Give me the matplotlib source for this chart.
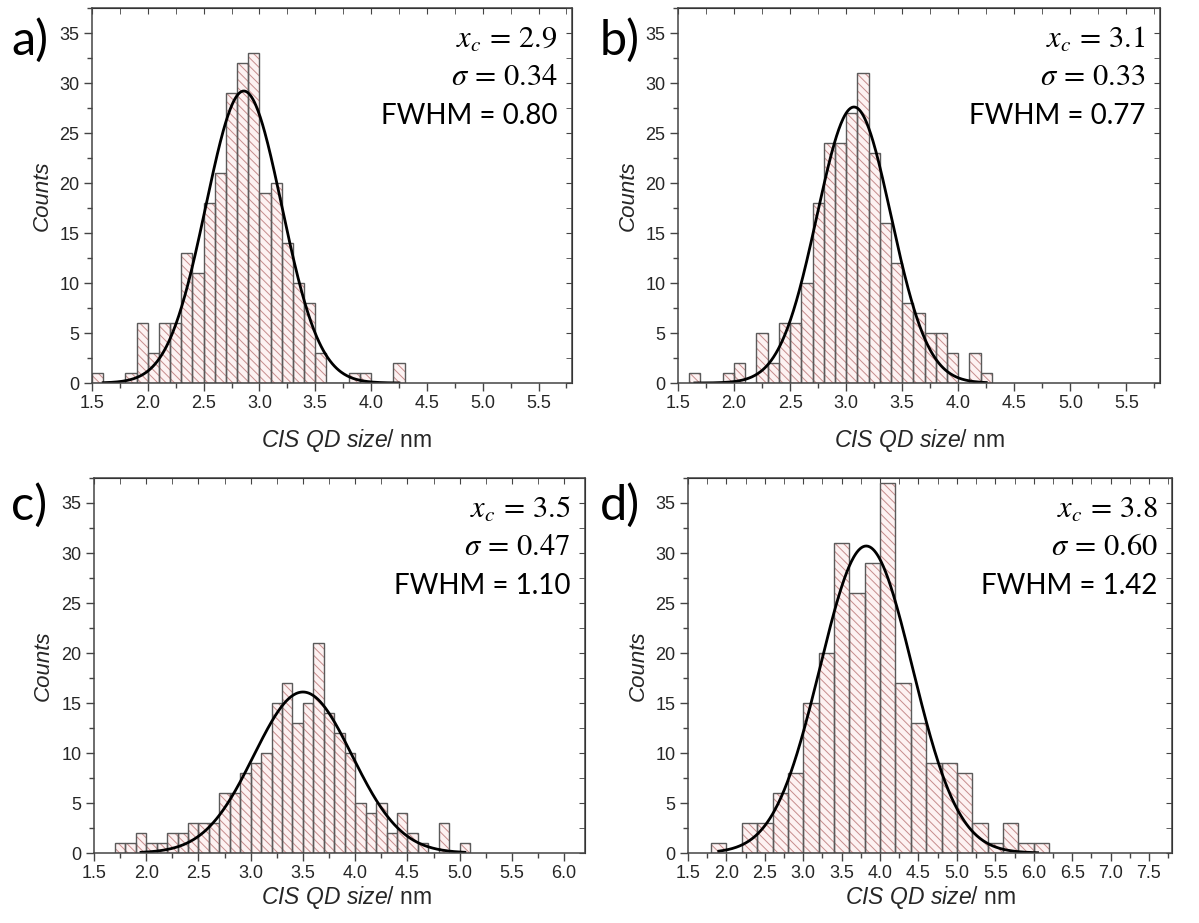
import numpy as np
import matplotlib
matplotlib.use('Agg')
import matplotlib.pyplot as plt
from matplotlib.ticker import MultipleLocator, FormatStrFormatter

plt.rcParams['font.family'] = ['Liberation Sans', 'DejaVu Sans']
plt.rcParams['mathtext.fontset'] = 'custom'
plt.rcParams['mathtext.rm'] = 'Liberation Sans'
plt.rcParams['mathtext.it'] = 'Liberation Sans:italic'
plt.rcParams['hatch.linewidth'] = 0.7

# histogram data: first bin edge, bin width, counts per bin
a_start, a_width = 1.5, 0.1
a_counts = [1, 0, 0, 1, 6, 3, 6, 6, 13, 11, 18, 21, 29, 32, 33, 19, 20, 14,
            10, 8, 3, 0, 0, 1, 1, 0, 0, 2]
b_start, b_width = 1.6, 0.1
b_counts = [1, 0, 0, 1, 2, 0, 5, 2, 6, 6, 10, 18, 24, 24, 27, 31, 23, 16,
            12, 8, 7, 5, 5, 3, 0, 3, 1]
c_start, c_width = 1.7, 0.1
c_counts = [1, 1, 2, 1, 1, 2, 2, 3, 3, 3, 6, 6, 8, 9, 10, 15, 17, 13, 15,
            21, 14, 12, 10, 5, 4, 5, 2, 4, 2, 1, 0, 3, 0, 1]
d_start, d_width = 1.8, 0.2
d_counts = [1, 0, 3, 3, 6, 8, 15, 20, 31, 26, 29, 37, 17, 13, 9, 9, 8, 3,
            1, 3, 1, 1]

# gaussian fits: amplitude, centre, sigma, and x-range of the drawn curve
a_fit = (29.2, 2.86, 0.34)
b_fit = (27.6, 3.07, 0.33)
c_fit = (16.1, 3.50, 0.47)
d_fit = (30.7, 3.82, 0.60)
a_range = (1.6, 4.25)
b_range = (1.65, 4.25)
c_range = (1.95, 5.05)
d_range = (1.9, 6.05)

# annotation values
a_stats = ('2.9', '0.34', '0.80')
b_stats = ('3.1', '0.33', '0.77')
c_stats = ('3.5', '0.47', '1.10')
d_stats = ('3.8', '0.60', '1.42')

W, H = 1199, 923
fig = plt.figure(figsize=(W / 100, H / 100), dpi=100)


def box(left, right, top, bottom):
    return [left / W, 1 - bottom / H, (right - left) / W, (bottom - top) / H]


def panel(rect, start, width, counts, fit, frange, stats, xmax, xtick_max,
          letter, letter_x, letter_y, xlab_pos):
    ax = fig.add_axes(rect)
    counts = np.array(counts)
    edges = start + width * np.arange(len(counts))
    # hatched fill, then outline on top
    ax.bar(edges, counts, width=width, align='edge', color='#fdf2f2',
           edgecolor='#c68c8c', hatch='\\\\\\\\', linewidth=0)
    ax.bar(edges, counts, width=width, align='edge', fill=False,
           edgecolor='#5a5a5a', linewidth=1.0)

    amp, xc, sig = fit
    xs = np.linspace(frange[0], frange[1], 400)
    ax.plot(xs, amp * np.exp(-(xs - xc) ** 2 / (2 * sig ** 2)), color='black', lw=2)

    ax.set_xlim(1.5, xmax)
    ax.set_ylim(0, 37.5)
    ax.set_xticks(np.arange(1.5, xtick_max + 0.01, 0.5))
    ax.set_yticks(np.arange(0, 36, 5))
    ax.xaxis.set_minor_locator(MultipleLocator(0.25))
    ax.yaxis.set_minor_locator(MultipleLocator(2.5))
    ax.xaxis.set_major_formatter(FormatStrFormatter('%.1f'))
    ax.tick_params(which='both', direction='out', colors='#444444', labelcolor='#262626',
                   labelsize=13, width=1, pad=3)
    ax.tick_params(which='major', length=6)
    ax.tick_params(which='minor', length=3.5)
    for s in ax.spines.values():
        s.set_color('#444444')
        s.set_linewidth(1.1)

    # mirrored ticks pointing inwards on top and right
    top = ax.secondary_xaxis('top')
    top.set_xticks(np.arange(1.5, xtick_max + 0.01, 0.5))
    top.xaxis.set_minor_locator(MultipleLocator(0.25))
    top.tick_params(which='both', direction='in', labeltop=False, colors='#444444', length=4.5)
    right = ax.secondary_yaxis('right')
    right.set_yticks(np.arange(0, 36, 5))
    right.yaxis.set_minor_locator(MultipleLocator(2.5))
    right.tick_params(which='both', direction='in', labelright=False, colors='#444444', length=4.5)

    ax.set_ylabel('Counts', fontstyle='italic', fontsize=16, color='#262626')
    ax.yaxis.set_label_coords(-0.082, 0.5)
    ax.set_xlabel(r'$\mathit{CIS\ QD\ size/}$ nm', fontsize=16.5, color='#262626')
    ax.xaxis.set_label_coords(*xlab_pos)

    ax.text(0.97, 0.915, r'$x_c\,=\,%s$' % stats[0], transform=ax.transAxes,
            ha='right', va='center', fontsize=22, math_fontfamily='stix')
    ax.text(0.97, 0.815, r'$\sigma\,=\,%s$' % stats[1], transform=ax.transAxes,
            ha='right', va='center', fontsize=22, math_fontfamily='stix')
    ax.text(0.97, 0.712, 'FWHM = %s' % stats[2], transform=ax.transAxes,
            ha='right', va='center', fontsize=20, family=['Lato', 'DejaVu Sans'])

    fig.text(letter_x / W, 1 - letter_y / H, letter, fontsize=35,
             family=['Lato', 'DejaVu Sans'], va='center', ha='left')
    return ax


panel(box(92, 572, 8, 383), a_start, a_width, a_counts, a_fit, a_range, a_stats,
      5.8, 5.5, 'a)', 11, 40, (0.53, -0.117))
panel(box(678, 1160, 8, 383), b_start, b_width, b_counts, b_fit, b_range, b_stats,
      5.8, 5.5, 'b)', 600, 40, (0.5, -0.117))
panel(box(94, 585, 478, 853), c_start, c_width, c_counts, c_fit, c_range, c_stats,
      6.2, 6.0, 'c)', 11, 505, (0.515, -0.082))
panel(box(688, 1172, 478, 853), d_start, d_width, d_counts, d_fit, d_range, d_stats,
      7.8, 7.5, 'd)', 600, 505, (0.5, -0.082))

fig.savefig('out.png', dpi=100)
